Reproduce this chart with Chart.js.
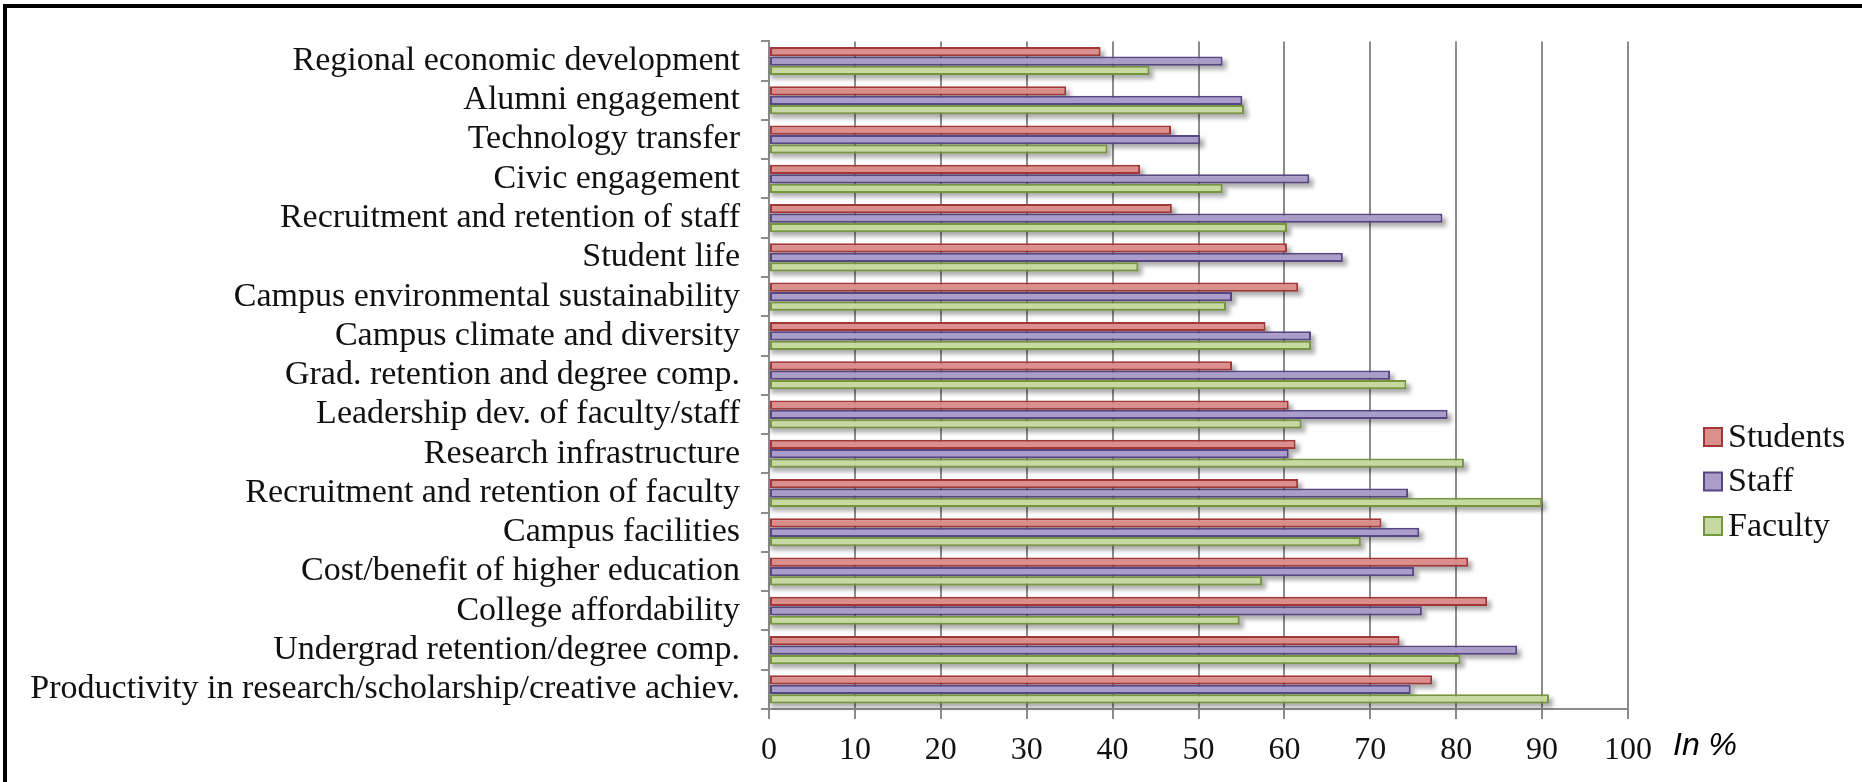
<!DOCTYPE html>
<html>
<head>
<meta charset="utf-8">
<script src="https://cdn.jsdelivr.net/npm/chart.js@4.4.1/dist/chart.umd.min.js"></script>
<style>
  html, body { margin: 0; padding: 0; background: #ffffff; }
  #wrap { position: relative; width: 1862px; height: 782px; }
</style>
</head>
<body>
<div id="wrap"><canvas id="chart" width="1862" height="782"></canvas></div>
<script>
// Categories, top to bottom
const categories = [
  'Regional economic development',
  'Alumni engagement',
  'Technology transfer',
  'Civic engagement',
  'Recruitment and retention of staff',
  'Student life',
  'Campus environmental sustainability',
  'Campus climate and diversity',
  'Grad. retention and degree comp.',
  'Leadership dev. of faculty/staff',
  'Research infrastructure',
  'Recruitment and retention of faculty',
  'Campus facilities',
  'Cost/benefit of higher education',
  'College affordability',
  'Undergrad retention/degree comp.',
  'Productivity in research/scholarship/creative achiev.'
];

const studentsPct = [38.6, 34.6, 46.8, 43.2, 46.9, 60.3, 61.6, 57.8, 53.9, 60.5, 61.3, 61.6, 71.3, 81.4, 83.6, 73.4, 77.2];
const staffPct    = [52.8, 55.1, 50.2, 62.9, 78.4, 66.8, 53.9, 63.1, 72.3, 79.0, 60.5, 74.4, 75.7, 75.1, 76.0, 87.1, 74.7];
const facultyPct  = [44.3, 55.3, 39.4, 52.8, 60.3, 43.0, 53.2, 63.1, 74.2, 62.0, 80.9, 90.0, 68.9, 57.4, 54.8, 80.5, 90.8];

const xMin = 0;
const xMax = 100;
const xStep = 10;
const unitLabel = 'In %';

const serif = "'Liberation Serif', 'Times New Roman', serif";

// soft drop shadow under each bar, taken from the bar elements themselves
const barShadow = {
  id: 'barShadow',
  beforeDatasetsDraw(chart) {
    const ctx = chart.ctx;
    ctx.save();
    ctx.filter = 'blur(2px)';
    ctx.fillStyle = 'rgba(0, 0, 0, 0.32)';
    chart.data.datasets.forEach((ds, i) => {
      chart.getDatasetMeta(i).data.forEach(bar => {
        const p = bar.getProps(['x', 'y', 'base', 'height'], true);
        ctx.fillRect(p.base + 1, p.y - p.height / 2 + 4, p.x - p.base + 3, p.height);
      });
    });
    ctx.restore();
  }
};

// legend on the right, plus the unit label and the picture frame
const sideBits = {
  id: 'sideBits',
  afterDraw(chart) {
    const ctx = chart.ctx;
    ctx.save();
    const lx = 1704, ly0 = 437, lgap = 44.5, box = 18;
    chart.data.datasets.forEach((ds, i) => {
      const cy = ly0 + i * lgap;
      ctx.fillStyle = ds.backgroundColor;
      ctx.fillRect(lx, cy - box / 2, box, box);
      ctx.strokeStyle = ds.borderColor;
      ctx.lineWidth = 2;
      ctx.strokeRect(lx, cy - box / 2, box, box);
      ctx.fillStyle = '#111';
      ctx.font = "34px " + serif;
      ctx.textBaseline = 'middle';
      ctx.textAlign = 'left';
      ctx.fillText(ds.label, lx + 24, cy + 1);
    });

    ctx.font = "italic 32px 'Liberation Sans', Arial, sans-serif";
    ctx.fillStyle = '#000';
    ctx.textBaseline = 'middle';
    ctx.fillText(unitLabel, 1673, 746);

    // frame
    ctx.fillStyle = '#000';
    ctx.fillRect(3, 4, 1862, 4);
    ctx.fillRect(3, 4, 4, 782);
    ctx.restore();
  }
};

const mk = (label, data, fill, line) => ({
  label,
  data,
  backgroundColor: fill,
  borderColor: line,
  borderWidth: 2,
  borderSkipped: false,
  categoryPercentage: 0.72,
  barPercentage: 0.98
});

new Chart(document.getElementById('chart'), {
  type: 'bar',
  data: {
    labels: categories,
    datasets: [
      mk('Students', studentsPct, '#dc8e8c', '#a33636'),
      mk('Staff', staffPct, '#ab9dca', '#574683'),
      mk('Faculty', facultyPct, '#c6d9a0', '#76963e')
    ]
  },
  options: {
    indexAxis: 'y',
    responsive: false,
    animation: false,
    devicePixelRatio: 1,
    layout: { padding: { top: 28, right: 234, bottom: 0, left: 0 } },
    scales: {
      x: {
        min: xMin,
        max: xMax,
        afterFit: s => { s.height = 73; },
        ticks: {
          stepSize: xStep,
          color: '#111',
          font: { family: serif, size: 32 },
          padding: 12,
          maxRotation: 0
        },
        grid: {
          color: '#8c8c8c',
          lineWidth: 2,
          tickLength: 10,
          tickColor: '#8c8c8c'
        },
        border: { color: '#8c8c8c', width: 2 }
      },
      y: {
        afterFit: s => { s.width = 769; },
        ticks: {
          color: '#111',
          font: { family: serif, size: 34 },
          padding: 21,
          autoSkip: false
        },
        grid: {
          drawOnChartArea: false,
          tickLength: 8,
          color: '#8c8c8c',
          lineWidth: 2
        },
        border: { color: '#8c8c8c', width: 2 }
      }
    },
    plugins: {
      legend: { display: false },
      tooltip: { enabled: false }
    }
  },
  plugins: [barShadow, sideBits]
});
</script>
</body>
</html>
